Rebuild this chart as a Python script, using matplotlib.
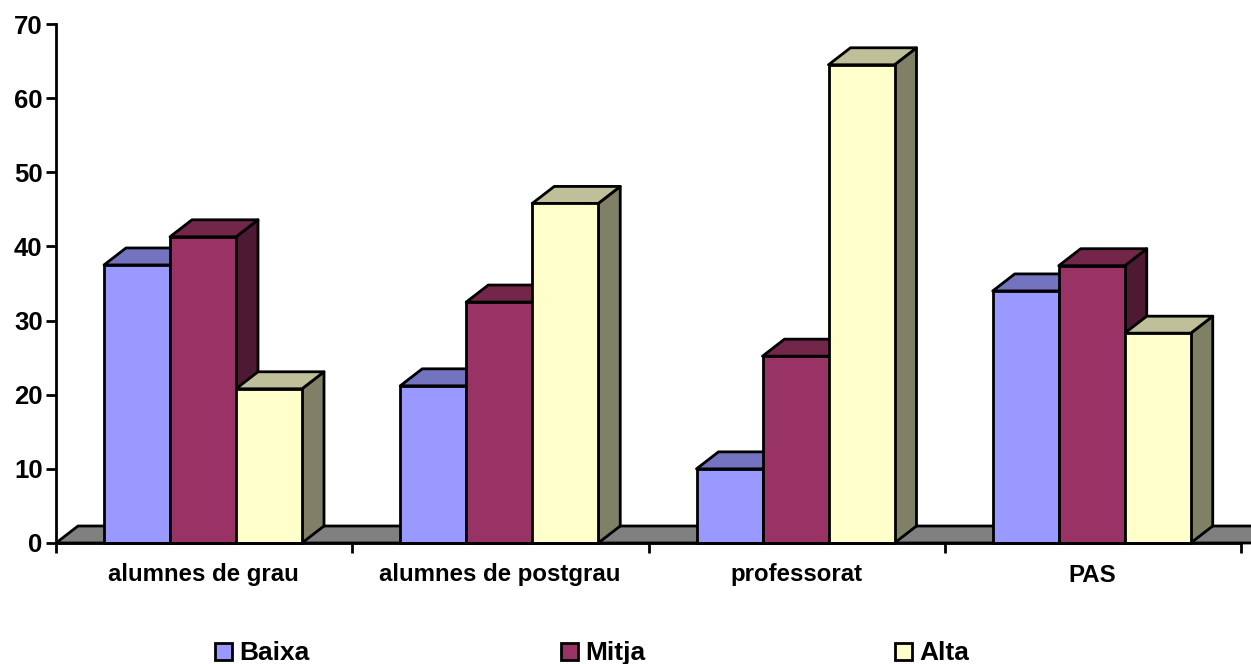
import matplotlib
matplotlib.use('Agg')
import matplotlib.pyplot as plt
from matplotlib.patches import Polygon, Rectangle

categories = ['alumnes de grau', 'alumnes de postgrau', 'professorat', 'PAS']
series_names = ['Baixa', 'Mitja', 'Alta']
baixa = [37.5, 21.2, 10.0, 34.0]
mitja = [41.3, 32.5, 25.2, 37.4]
alta = [20.8, 45.8, 64.5, 28.3]
y_ticks = [0, 10, 20, 30, 40, 50, 60, 70]

front_colors = ['#9999FF', '#993366', '#FFFFCC']
top_colors = ['#7373BF', '#732649', '#BFBF99']
side_colors = ['#4D4D80', '#4D1933', '#808066']

W, H = 1251, 664
plt.rcParams['font.family'] = ['Liberation Sans', 'DejaVu Sans']
plt.rcParams['font.weight'] = 'bold'

fig = plt.figure(figsize=(W / 100, H / 100), dpi=100)
ax = fig.add_axes([56 / W, 1 - 543 / H, 1185 / W, 519 / H])
ax.set_xlim(0, 4)
ax.set_ylim(0, 70)

LW = 2.0
dx = 22 / 296.25
dy = 17 / (519 / 70)
bar_w = 66 / 296.25
start = 48 / 296.25


def poly(points, color, z):
    ax.add_patch(Polygon(points, closed=True, facecolor=color, edgecolor='black',
                         linewidth=LW, joinstyle='round', clip_on=False, zorder=z))


# grey floor, runs off the right edge of the picture
poly([(0, 0), (dx, dy), (4.2, dy), (4.2 - dx, 0)], '#808080', 1)

for i in range(len(categories)):
    for j, values in enumerate([baixa, mitja, alta]):
        x0 = i + start + j * bar_w
        x1 = x0 + bar_w
        v = values[i]
        z = 2 + i + j * 0.1
        poly([(x1, 0), (x1 + dx, dy), (x1 + dx, v + dy), (x1, v)], side_colors[j], z)
        poly([(x0, v), (x0 + dx, v + dy), (x1 + dx, v + dy), (x1, v)], top_colors[j], z)
    for j, values in enumerate([baixa, mitja, alta]):
        x0 = i + start + j * bar_w
        ax.bar(x0, values[i], bar_w, align='edge', color=front_colors[j], edgecolor='black',
               linewidth=LW, zorder=2.5 + i + j * 0.1, clip_on=False)

for s in ['top', 'right']:
    ax.spines[s].set_visible(False)
for s in ['left', 'bottom']:
    ax.spines[s].set_linewidth(LW)
    ax.spines[s].set_zorder(20)

ax.set_yticks(y_ticks)
ax.tick_params(axis='y', length=7.2, width=LW, labelsize=18.5, pad=2.5)
ax.set_xticks(range(5))
ax.set_xticklabels([])
ax.tick_params(axis='x', length=7.2, width=LW)

for i, name in enumerate(categories):
    fig.text((55.5 + (i + 0.5) * 296.25) / W, 1 - 575 / H, name, ha='center', va='center',
             fontsize=17.3, fontweight='bold')

# legend, spaced unevenly like the original
legend_x = [215, 561, 895]
for x, name, color in zip(legend_x, series_names, front_colors):
    fig.add_artist(Rectangle((x / W, 1 - 660 / H), 17 / W, 17 / H, transform=fig.transFigure,
                             facecolor=color, edgecolor='black', linewidth=LW))
    fig.text((x + 24) / W, 1 - 653 / H, name, ha='left', va='center', fontsize=19, fontweight='bold')

fig.savefig('out.png', dpi=100)
